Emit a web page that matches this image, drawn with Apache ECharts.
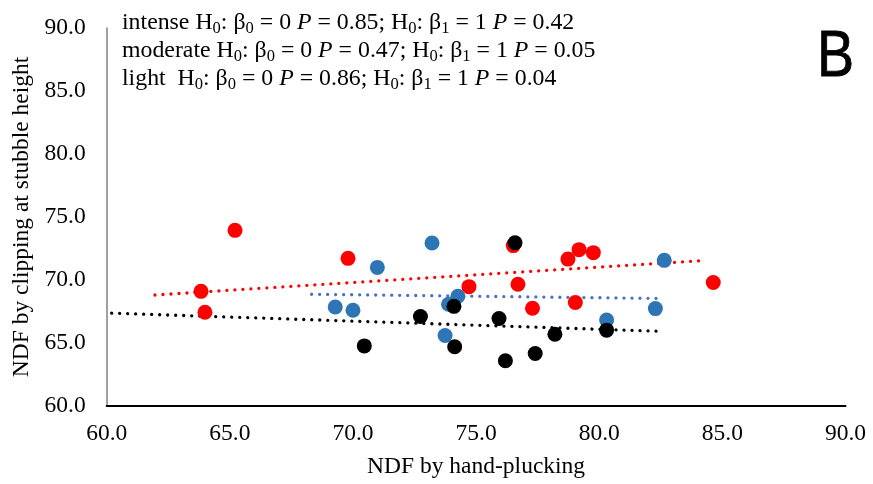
<!DOCTYPE html>
<html>
<head>
<meta charset="utf-8">
<script src="https://cdn.jsdelivr.net/npm/echarts@6/dist/echarts.min.js"></script>
<style>html,body{margin:0;padding:0;background:#fff;}#c{width:873px;height:484px;}</style>
</head>
<body>
<div id="c"></div>
<script>
const intenseX = [63.83, 63.99, 65.21, 69.80, 74.71, 76.51, 76.70, 77.29, 78.73, 79.03, 79.18, 79.76, 84.63];
const intenseY = [69.10, 67.44, 73.94, 71.72, 69.47, 72.73, 69.66, 67.76, 71.66, 68.21, 72.41, 72.17, 69.80];
const moderateX = [69.28, 70.00, 70.99, 73.21, 73.74, 73.88, 74.26, 80.30, 82.28, 82.64];
const moderateY = [67.86, 67.60, 71.00, 72.94, 65.60, 68.08, 68.71, 66.83, 67.73, 71.56];
const lightX = [70.46, 72.74, 74.10, 74.13, 75.93, 76.19, 76.58, 77.40, 78.20, 80.30];
const lightY = [64.77, 67.10, 67.91, 64.70, 66.94, 63.59, 72.96, 64.17, 65.70, 66.02];
const intenseTrendX = [61.96, 84.34];
const intenseTrendY = [68.81, 71.56];
const moderateTrendX = [68.32, 82.63];
const moderateTrendY = [68.87, 68.53];
const lightTrendX = [60.20, 82.63];
const lightTrendY = [67.37, 65.92];
const axisTicks = [60, 65, 70, 75, 80, 85, 90];
const notes = [
  ['intense', '0.85', '0.42'],
  ['moderate', '0.47', '0.05'],
  ['light ', '0.86', '0.04']
];

const zip = (xs, ys) => xs.map((x, i) => [x, ys[i]]);
const serif = '"Liberation Serif", "Times New Roman", serif';

function noteText(n) {
  return n[0] + ' H{s|0}: β{s|0} = 0 {i|P} = ' + n[1] + '; H{s|0}: β{s|1} = 1 {i|P} = ' + n[2];
}

const chart = echarts.init(document.getElementById('c'), null, {renderer: 'canvas'});
const pointSeries = (name, data, color) => ({
  name, type: 'scatter', data, symbolSize: 15, z: 3,
  itemStyle: {color, opacity: 1}
});
const trendSeries = (name, data, color) => ({
  name, type: 'line', data, symbol: 'none', z: 2, silent: true,
  lineStyle: {color, width: 3.3, type: [0.01, 8], cap: 'round'}
});

const richBase = {
  s: {fontSize: 16, fontFamily: serif, color: '#000', verticalAlign: 'bottom', lineHeight: 13},
  i: {fontSize: 23, fontFamily: serif, fontStyle: 'italic', color: '#000', lineHeight: 28}
};

chart.setOption({
  animation: false,
  grid: {left: 106.7, right: 27.5, top: 28, bottom: 77},
  xAxis: {
    type: 'value', min: 60, max: 90, interval: 5,
    name: 'NDF by hand-plucking', nameLocation: 'middle', nameGap: 49,
    nameTextStyle: {fontFamily: serif, fontSize: 23.5, color: '#000'},
    axisLine: {show: true, lineStyle: {color: '#000', width: 2}},
    axisTick: {show: false}, splitLine: {show: false},
    axisLabel: {fontFamily: serif, fontSize: 23.5, color: '#000', margin: 16,
      formatter: v => axisTicks.includes(v) ? v.toFixed(1) : ''}
  },
  yAxis: {
    type: 'value', min: 60, max: 90, interval: 5,
    name: 'NDF by clipping at stubble height', nameLocation: 'middle', nameGap: 72,
    nameTextStyle: {fontFamily: serif, fontSize: 23.5, color: '#000'},
    axisLine: {show: true, lineStyle: {color: '#808080', width: 1.5}},
    axisTick: {show: false}, splitLine: {show: false},
    axisLabel: {fontFamily: serif, fontSize: 23.5, color: '#000', margin: 21,
      formatter: v => axisTicks.includes(v) ? v.toFixed(1) : ''}
  },
  graphic: [
    ...notes.map((n, k) => ({
      type: 'text', x: 122, y: 23 + k * 28, scaleX: 1.035, z: 10,
      style: {text: noteText(n), x: 0, y: 0, align: 'left', verticalAlign: 'middle',
        fontFamily: serif, fontSize: 23, lineHeight: 28, fill: '#000', rich: richBase}
    })),
    {type: 'text', x: 817, y: 58, scaleX: 0.87, z: 10,
      style: {text: 'B', x: 0, y: 0, align: 'left', verticalAlign: 'middle',
        fontFamily: '"Liberation Sans", Arial, sans-serif', fontSize: 64, fill: '#000',
        stroke: '#000', lineWidth: 0.8}}
  ],
  series: [
    trendSeries('intense trend', zip(intenseTrendX, intenseTrendY), '#FF0000'),
    trendSeries('moderate trend', zip(moderateTrendX, moderateTrendY), '#4472C4'),
    trendSeries('light trend', zip(lightTrendX, lightTrendY), '#000000'),
    pointSeries('intense', zip(intenseX, intenseY), '#FF0000'),
    pointSeries('moderate', zip(moderateX, moderateY), '#2E75B6'),
    pointSeries('light', zip(lightX, lightY), '#000000')
  ]
});
</script>
</body>
</html>
